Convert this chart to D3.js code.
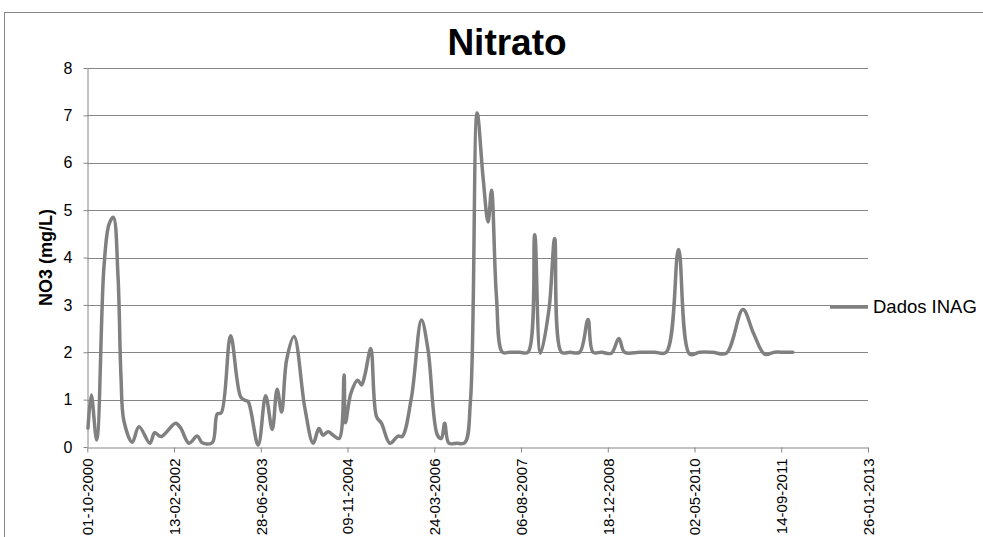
<!DOCTYPE html>
<html>
<head>
<meta charset="utf-8">
<script src="https://cdn.jsdelivr.net/npm/d3@7"></script>
<style>
  body { margin: 0; background: #fff; }
  svg text { font-family: "Liberation Sans", Arial, sans-serif; fill: #000; }
</style>
</head>
<body>
<div id="chart-area"></div>
<script>

// SVG Size
var width = 983,
    height = 537;

// Sample dates (dd-mm-yyyy) and nitrate values (mg/L)
var dates = [
  "05-10-2000", "24-10-2000", "24-11-2000", "05-01-2001", "03-02-2001", "28-02-2001",
  "27-03-2001", "13-04-2001", "30-04-2001", "17-06-2001", "26-07-2001", "27-09-2001",
  "24-10-2001", "01-12-2001", "22-02-2002", "23-03-2002", "10-05-2002", "27-06-2002",
  "25-07-2002", "21-09-2002", "20-10-2002", "12-11-2002", "05-01-2003", "04-03-2003",
  "01-04-2003", "16-04-2003", "13-06-2003", "26-07-2003", "02-09-2003", "30-09-2003",
  "26-10-2003", "24-11-2003", "06-01-2004", "08-03-2004", "25-04-2004", "28-05-2004",
  "21-06-2004", "20-07-2004", "18-08-2004", "22-09-2004", "20-10-2004", "28-10-2004",
  "28-11-2004", "06-01-2005", "29-01-2005", "17-02-2005", "23-03-2005", "25-04-2005",
  "24-05-2005", "11-07-2005", "27-08-2005", "20-09-2005", "13-11-2005", "09-01-2006",
  "16-02-2006", "11-04-2006", "04-05-2006", "23-05-2006", "16-06-2006", "01-08-2006",
  "16-09-2006", "19-10-2006", "26-11-2006", "30-12-2006", "28-01-2007", "17-02-2007",
  "17-03-2007", "21-04-2007", "02-06-2007", "30-07-2007", "15-09-2007", "24-10-2007",
  "26-11-2007", "14-01-2008", "16-02-2008", "26-03-2008", "13-05-2008", "09-07-2008",
  "26-08-2008", "24-09-2008", "13-11-2008", "08-01-2009", "20-02-2009", "25-03-2009",
  "20-06-2009", "14-09-2009", "20-11-2009", "30-01-2010", "04-04-2010", "31-05-2010",
  "14-08-2010", "01-11-2010", "05-02-2011", "07-04-2011", "10-06-2011", "06-08-2011",
  "03-10-2011", "20-11-2011"
];

var values = [
  0.40, 1.10, 0.15, 3.80, 4.70, 4.85,
  3.60, 1.50, 0.55, 0.10, 0.43, 0.08,
  0.30, 0.22, 0.50, 0.40, 0.08, 0.23,
  0.09, 0.09, 0.70, 0.72, 2.35, 1.06,
  0.98, 0.96, 0.04, 1.08, 0.37, 1.22,
  0.74, 1.84, 2.33, 0.82, 0.08, 0.39,
  0.25, 0.32, 0.25, 0.18, 1.52, 0.51,
  1.13, 1.41, 1.31, 1.52, 2.08, 0.64,
  0.50, 0.08, 0.23, 0.22, 1.06, 2.68,
  2.05, 0.25, 0.18, 0.50, 0.08, 0.08,
  0.09, 1.00, 7.05, 5.70, 4.75, 5.42,
  3.20, 2.00, 2.00, 2.00, 2.00, 4.48,
  1.98, 2.90, 4.40, 2.00, 2.00, 2.00,
  2.69, 2.00, 2.00, 1.98, 2.29, 2.00,
  2.00, 2.00, 2.00, 4.17, 1.96, 2.00,
  2.00, 1.98, 2.90, 2.40, 1.96, 2.00,
  2.00, 2.00
];

var yTicks = [0, 1, 2, 3, 4, 5, 6, 7, 8];
var xTickStep = 500; // days between date labels
var seriesName = "Dados INAG";
var titleText = "Nitrato";
var yLabel = "NO3 (mg/L)";

var parseDate = d3.utcParse("%d-%m-%Y");
var formatDate = d3.utcFormat("%d-%m-%Y");

var data = dates.map(function(d, i) {
  return { date: parseDate(d), value: values[i] };
});

// Plot area
var plot = { left: 87.3, right: 868, top: 68, bottom: 447 };

var startDate = parseDate("01-10-2000");
var xTickValues = d3.range(0, 10).map(function(i) {
  return d3.utcDay.offset(startDate, i * xTickStep);
});

var svg = d3.select("#chart-area").append("svg")
    .attr("width", width)
    .attr("height", height);

// Chart border
svg.append("rect")
    .attr("x", 4.5)
    .attr("y", 12.5)
    .attr("width", 1000)
    .attr("height", 600)
    .attr("fill", "none")
    .attr("stroke", "#868686")
    .attr("stroke-width", 1);

// Scales
var x = d3.scaleUtc()
    .domain([xTickValues[0], xTickValues[xTickValues.length - 1]])
    .range([plot.left, plot.right]);

var y = d3.scaleLinear()
    .domain([0, 8])
    .range([plot.bottom, plot.top]);

// Gridlines
svg.append("g")
    .attr("class", "grid")
  .selectAll("line")
    .data(yTicks.slice(1))
    .enter()
  .append("line")
    .attr("x1", plot.left)
    .attr("x2", plot.right)
    .attr("y1", function(d) { return Math.round(y(d)) + 0.5; })
    .attr("y2", function(d) { return Math.round(y(d)) + 0.5; })
    .attr("stroke", "#868686")
    .attr("stroke-width", 1);

// Axes
var xAxis = d3.axisBottom(x)
    .tickValues(xTickValues)
    .tickFormat(formatDate)
    .tickSizeInner(5)
    .tickSizeOuter(0);

var yAxis = d3.axisLeft(y)
    .tickValues(yTicks)
    .tickSizeInner(4)
    .tickSizeOuter(0)
    .tickPadding(11);

var gx = svg.append("g")
    .attr("class", "x axis")
    .attr("transform", "translate(0," + (Math.round(plot.bottom) + 0.5) + ")")
    .call(xAxis);

gx.selectAll("text")
    .attr("transform", "rotate(-90)")
    .attr("x", -11)
    .attr("y", 0)
    .attr("dy", "0.35em")
    .style("text-anchor", "end")
    .style("font-size", "15px");

var gy = svg.append("g")
    .attr("class", "y axis")
    .attr("transform", "translate(" + (Math.round(plot.left) + 0.5) + ",0)")
    .call(yAxis);

gy.selectAll("text")
    .style("font-size", "16px");

svg.selectAll(".axis path, .axis line")
    .attr("stroke", "#868686");

// Line
var line = d3.line()
    .x(function(d) { return x(d.date); })
    .y(function(d) { return y(d.value); })
    .curve(d3.curveCatmullRom.alpha(0.5));

svg.append("path")
    .datum(data)
    .attr("fill", "none")
    .attr("stroke", "#808080")
    .attr("stroke-width", 3.5)
    .attr("stroke-linejoin", "round")
    .attr("stroke-linecap", "round")
    .attr("d", line);

// Title
svg.append("text")
    .attr("x", 507)
    .attr("y", 55)
    .attr("text-anchor", "middle")
    .style("font-size", "37px")
    .style("font-weight", "bold")
    .text(titleText);

// Y axis label
svg.append("text")
    .attr("transform", "translate(52," + ((plot.top + plot.bottom) / 2) + ") rotate(-90)")
    .attr("text-anchor", "middle")
    .style("font-size", "18px")
    .style("font-weight", "bold")
    .text(yLabel);

// Legend
var legend = svg.append("g")
    .attr("transform", "translate(830,307)");

legend.append("line")
    .attr("x1", 0)
    .attr("x2", 38)
    .attr("stroke", "#808080")
    .attr("stroke-width", 3.5);

legend.append("text")
    .attr("x", 43)
    .attr("dy", "0.35em")
    .style("font-size", "18.5px")
    .text(seriesName);

</script>
</body>
</html>
